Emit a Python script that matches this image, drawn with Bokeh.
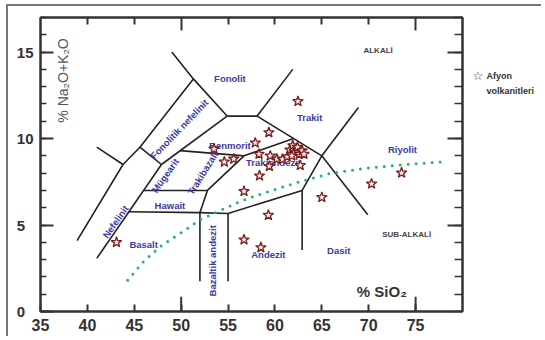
import math
from bokeh.plotting import figure
from bokeh.models import LinearAxis, FixedTicker
from bokeh.core.properties import value
from bokeh.embed import file_html
from bokeh.resources import INLINE

# ---- data: Afyon volcanics (SiO2 wt%, Na2O+K2O wt%) ----
sio2 = [43.1, 53.5, 54.6, 55.6, 57.9, 59.35, 62.45, 58.3, 59.5, 60.2, 60.8, 61.3,
        61.6, 61.9, 62.1, 62.4, 62.6, 62.9, 63.1, 62.7, 59.4, 58.35, 56.7, 59.3,
        56.7, 58.5, 65.0, 70.3, 73.5, 61.8]
alkali = [4.0, 9.4, 8.65, 8.82, 9.75, 10.35, 12.15, 9.1, 9.0, 8.82, 8.8, 8.95,
          9.35, 9.6, 9.2, 9.5, 9.1, 9.3, 9.1, 8.45, 8.4, 7.85, 6.95, 5.57,
          4.15, 3.7, 6.6, 7.38, 8.02, 9.0]

# ---- alkaline / sub-alkaline divide ----
div_x = [44.3, 46, 48, 50, 52, 54, 56, 58, 60, 62, 64, 66, 68, 70, 72, 74, 76, 78.3]
div_y = [1.8, 2.9, 3.85, 4.55, 5.3, 5.8, 6.3, 6.7, 7.05, 7.4, 7.7, 8.0, 8.15, 8.3,
         8.4, 8.5, 8.58, 8.67]

# ---- field boundaries ----
bound_x = [
    [49.0, 51.3, 54.9],
    [54.9, 58.1],
    [58.1, 61.9],
    [58.1, 65.0],
    [65.0, 68.9],
    [65.0, 69.9],
    [65.0, 62.9, 62.9],
    [62.9, 55.0, 55.0],
    [44.4, 52.0, 55.0],
    [52.0, 52.0],
    [52.0, 52.8],
    [46.0, 52.8, 56.7, 62.0],
    [49.9, 56.7],
    [54.9, 47.9],
    [51.3, 45.6, 43.8, 38.9],
    [41.0, 43.8],
    [45.6, 47.9],
    [47.9, 41.0],
]
bound_y = [
    [15.0, 13.45, 11.3],
    [11.3, 11.3],
    [11.3, 14.0],
    [11.3, 9.0],
    [9.0, 11.8],
    [9.0, 5.6],
    [9.0, 7.0, 3.55],
    [7.0, 5.67, 1.75],
    [5.77, 5.72, 5.67],
    [5.72, 1.75],
    [5.72, 7.0],
    [7.0, 7.0, 9.0, 10.0],
    [9.3, 9.0],
    [11.3, 8.5],
    [13.45, 9.5, 8.5, 4.1],
    [9.5, 8.5],
    [9.5, 8.5],
    [8.5, 3.07],
]

# ---- field names ----
field_names = ["Fonolit", "Trakit", "Riyolit", "Dasit", "Andezit", "Bazaltik andezit",
               "Basalt", "Hawait", "Nefelinit", "Mügearit", "Trakibazalt", "Benmorit",
               "Trakiandezit", "Fonolitik nefelinit"]
field_x = [55.2, 63.7, 73.6, 66.8, 59.3, 53.3, 46.0, 48.8, 43.0, 48.3, 52.3, 55.2, 59.85, 49.8]
field_y = [13.5, 11.23, 9.36, 3.55, 3.27, 2.93, 3.86, 6.12, 5.19, 7.86, 8.0, 9.6, 8.59, 10.55]
field_angle = [0, 0, 0, 0, 0, 90, 0, 0, 55, 55, 58, 0, 0, 46]

# ---- legend text ----
legend_lines = ["Afyon", "volkanitleri"]
legend_rows = [13.6, 12.76]

x_ticks = [35, 40, 45, 50, 55, 60, 65, 70, 75]
x_long_ticks = [50, 75]
y_ticks = [0, 5, 10, 15]
y_minor = list(range(0, 18))

p = figure(width=535, height=332, x_range=(35, 80), y_range=(0, 17),
           output_backend="svg", toolbar_location=None,
           min_border_left=32, min_border_right=81, min_border_top=11, min_border_bottom=27,
           outline_line_color="#333333", outline_line_width=2)
p.styles = {"border-top": "2px solid #777777", "border-left": "2px solid #777777",
            "margin-top": "4px", "margin-left": "6px"}
p.xgrid.visible = False
p.ygrid.visible = False

AX = "#333333"
NB = "\u00a0\u00a0"
# bottom axis
xa = p.xaxis[0]
xa.ticker = FixedTicker(ticks=x_ticks, minor_ticks=[])
xa.axis_line_width = 2
xa.axis_line_color = AX
xa.major_tick_in = 7
xa.major_tick_out = 0
xa.major_tick_line_width = 2
xa.major_tick_line_color = AX
xa.minor_tick_in = 0
xa.minor_tick_out = 0
xa.major_label_standoff = 7
xa.major_label_text_font = "Liberation Sans"
xa.major_label_text_font_style = "bold"
xa.major_label_text_font_size = "16px"
xa.major_label_text_color = AX

# left axis
ya = p.yaxis[0]
ya.ticker = FixedTicker(ticks=y_ticks, minor_ticks=y_minor)
ya.axis_line_width = 2
ya.axis_line_color = AX
ya.major_tick_in = 13
ya.major_tick_out = 0
ya.major_tick_line_width = 2
ya.major_tick_line_color = AX
ya.minor_tick_in = 6
ya.minor_tick_out = 0
ya.minor_tick_line_width = 1.5
ya.minor_tick_line_color = AX
ya.major_label_standoff = 7
ya.major_label_overrides = {0: "0" + NB, 5: "5" + NB}
ya.major_label_text_font = "Liberation Sans"
ya.major_label_text_font_style = "bold"
ya.major_label_text_font_size = "15px"
ya.major_label_text_color = AX

# top axis (ticks only)
ta = LinearAxis(ticker=FixedTicker(ticks=x_long_ticks, minor_ticks=[40, 45, 55, 60, 65, 70]),
                axis_line_width=2, axis_line_color=AX,
                major_tick_in=13, major_tick_out=0, major_tick_line_width=2, major_tick_line_color=AX,
                minor_tick_in=7, minor_tick_out=0, minor_tick_line_width=2, minor_tick_line_color=AX,
                major_label_overrides={50: "", 75: ""}, major_label_standoff=0)
p.add_layout(ta, "above")

# right axis (ticks only)
ra = LinearAxis(ticker=FixedTicker(ticks=[5, 10, 15], minor_ticks=y_minor),
                axis_line_width=2, axis_line_color=AX,
                major_tick_in=15, major_tick_out=0, major_tick_line_width=2, major_tick_line_color=AX,
                minor_tick_in=8, minor_tick_out=0, minor_tick_line_width=1.5, minor_tick_line_color=AX,
                major_label_overrides={5: "", 10: "", 15: ""}, major_label_standoff=0)
p.add_layout(ra, "right")

# legend, built from two label-only axes in the right margin
star_axis = LinearAxis(ticker=FixedTicker(ticks=legend_rows[:1], minor_ticks=[]),
                       axis_line_color=None, major_tick_line_color=None, minor_tick_line_color=None,
                       major_tick_in=0, major_tick_out=0, minor_tick_in=0, minor_tick_out=0,
                       major_label_overrides={legend_rows[0]: "☆"}, major_label_standoff=10,
                       major_label_text_font="DejaVu Sans", major_label_text_font_style="bold",
                       major_label_text_font_size="12px", major_label_text_color="#7a1f1f")
p.add_layout(star_axis, "right")
text_axis = LinearAxis(ticker=FixedTicker(ticks=legend_rows, minor_ticks=[]),
                       axis_line_color=None, major_tick_line_color=None, minor_tick_line_color=None,
                       major_tick_in=0, major_tick_out=0, minor_tick_in=0, minor_tick_out=0,
                       major_label_overrides=dict(zip(legend_rows, legend_lines)),
                       major_label_standoff=0,
                       major_label_text_font="Liberation Sans", major_label_text_font_style="bold",
                       major_label_text_font_size="9px", major_label_text_color="#333333")
p.add_layout(text_axis, "right")

# longer bottom ticks at 50 and 75
p.segment(x0=x_long_ticks, y0=[0] * len(x_long_ticks), x1=x_long_ticks, y1=[0.85] * len(x_long_ticks),
          line_color=AX, line_width=2)

# field boundaries
p.multi_line(xs=bound_x, ys=bound_y, line_color="#222222", line_width=1.6)

# alkaline / sub-alkaline divide
p.line(div_x, div_y, line_color="#22b573", line_width=3, line_dash="0 8", line_cap="round")

# field names
p.text(x=field_x, y=field_y, text=field_names,
       angle=[math.radians(a) for a in field_angle],
       text_font=value("Liberation Sans"), text_font_style="bold", text_font_size="9.5px",
       text_color="#3f3a9e", text_align="center", text_baseline="middle")

# series labels
p.text(x=[71.0, 74.05], y=[15.1, 4.44], text=["ALKALİ", "SUB-ALKALİ"],
       text_font=value("Liberation Sans"), text_font_style="bold", text_font_size="8px",
       text_color="#444444", text_align="center", text_baseline="middle")

# axis titles drawn inside the frame
p.text(x=[37.45], y=[13.36], text=["% Na₂O+K₂O"], angle=math.pi / 2,
       text_font=value("Liberation Sans"), text_font_size="14px",
       text_color="#555555", text_align="center", text_baseline="middle")
p.text(x=[71.4], y=[1.16], text=["% SiO₂"],
       text_font=value("Liberation Sans"), text_font_style="bold", text_font_size="15px",
       text_color="#333333", text_align="center", text_baseline="middle")

# samples
p.scatter(sio2, alkali, marker="star", size=11, fill_color="#f6e6e6",
          line_color="#7a1f1f", line_width=1.3)

open("out.html", "w").write(file_html(p, INLINE))
